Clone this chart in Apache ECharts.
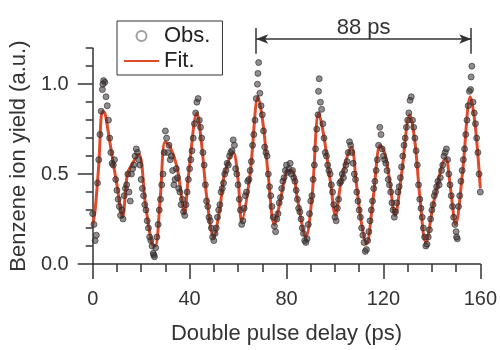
<!DOCTYPE html>
<html>
<head>
<meta charset="utf-8">
<script src="https://cdn.jsdelivr.net/npm/echarts@6/dist/echarts.min.js"></script>
<style>html,body{margin:0;padding:0;background:#fff}#c{width:500px;height:350px}</style>
</head>
<body>
<div id="c"></div>
<script>
// Fit curve (ps, a.u.)
const fitDelay = [0,1,2.5,4,5,6,8,10,12.3,14.3,16,19,21.8,24.5,25.8,27.9,29.9,32,34.8,36.8,37.8,39.6,43,45,47,49.9,52.4,54.4,58,60,61.5,64.8,68.3,70.4,72.4,75,77.7,80,82.3,84.4,88,90.5,93.3,95.3,98.2,100.2,102.7,106.8,108.8,110.9,113,115.8,118.7,120.7,122.7,124.8,127.3,130.9,133,135,137.5,141,145.7,147.7,149.8,152.6,155.9,157.9,160];
const fitYield = [0.22,0.30,0.55,0.85,0.84,0.77,0.60,0.44,0.26,0.50,0.55,0.61,0.33,0.11,0.10,0.37,0.68,0.65,0.54,0.36,0.28,0.50,0.84,0.66,0.38,0.15,0.30,0.50,0.62,0.47,0.24,0.48,0.93,0.77,0.50,0.22,0.37,0.51,0.52,0.37,0.15,0.37,0.84,0.72,0.45,0.27,0.47,0.65,0.45,0.23,0.11,0.37,0.66,0.61,0.45,0.27,0.48,0.83,0.68,0.38,0.12,0.36,0.59,0.42,0.22,0.50,0.93,0.77,0.42];

// Observed points, sampled every obsStep ps starting at 0 (one row = 10 ps)
const obsStep = 0.5;
const obsYield = [
0.28,0.22,0.13,0.16,0.45,0.58,0.72,0.85,0.97,1.02,1.01,0.93,0.88,0.80,0.70,0.62,0.56,0.55,0.58,0.47,
0.41,0.36,0.32,0.27,0.30,0.25,0.38,0.42,0.44,0.50,0.40,0.35,0.50,0.53,0.55,0.60,0.64,0.62,0.58,0.55,
0.47,0.42,0.38,0.33,0.30,0.24,0.20,0.15,0.13,0.10,0.06,0.04,0.09,0.15,0.22,0.30,0.36,0.44,0.50,0.62,
0.74,0.70,0.62,0.66,0.58,0.60,0.52,0.44,0.47,0.53,0.48,0.42,0.40,0.33,0.36,0.29,0.27,0.33,0.40,0.47,
0.53,0.58,0.63,0.70,0.78,0.84,0.90,0.92,0.80,0.76,0.70,0.62,0.55,0.44,0.35,0.32,0.26,0.24,0.20,0.15,
0.13,0.17,0.20,0.26,0.30,0.33,0.40,0.42,0.45,0.50,0.52,0.56,0.55,0.60,0.62,0.63,0.69,0.66,0.53,0.50,
0.44,0.36,0.30,0.22,0.24,0.31,0.38,0.40,0.46,0.47,0.52,0.57,0.66,0.72,0.80,0.92,1.00,1.12,0.95,0.88,
0.83,0.74,0.65,0.62,0.60,0.50,0.43,0.38,0.32,0.26,0.21,0.18,0.25,0.28,0.34,0.37,0.42,0.46,0.48,0.52,
0.55,0.51,0.53,0.56,0.50,0.52,0.48,0.46,0.41,0.36,0.31,0.29,0.25,0.20,0.17,0.13,0.12,0.14,0.22,0.28,
0.35,0.38,0.47,0.55,0.64,0.75,0.83,1.03,0.90,0.86,0.78,0.70,0.62,0.60,0.55,0.52,0.50,0.44,0.40,0.33,
0.26,0.24,0.31,0.36,0.45,0.46,0.50,0.48,0.52,0.55,0.57,0.62,0.68,0.66,0.62,0.56,0.50,0.47,0.40,0.35,
0.30,0.26,0.20,0.16,0.12,0.07,0.08,0.13,0.18,0.24,0.30,0.35,0.42,0.46,0.52,0.58,0.66,0.76,0.72,0.64,
0.60,0.58,0.56,0.52,0.47,0.44,0.40,0.34,0.30,0.26,0.29,0.34,0.40,0.43,0.48,0.54,0.60,0.66,0.70,0.76,
0.80,0.84,0.91,0.93,0.80,0.76,0.70,0.63,0.55,0.44,0.36,0.31,0.26,0.20,0.15,0.10,0.11,0.15,0.19,0.25,
0.30,0.33,0.38,0.40,0.43,0.46,0.44,0.48,0.52,0.55,0.60,0.62,0.64,0.58,0.50,0.44,0.38,0.32,0.26,0.22,
0.18,0.14,0.32,0.38,0.46,0.52,0.58,0.64,0.72,0.80,0.88,0.96,0.97,1.10,0.90,0.84,0.78,0.70,0.62,0.50,
0.40];
// A few additional observed points at the peaks and dips
const obsExtra = [[68.2,1.06],[156.2,1.04],[93.2,0.96],[4.2,1.00],[150.2,0.15],[25.2,0.05]];

// Period annotation
const periodStart = 68, periodEnd = 156, periodLabel = '88 ps';

const xTicks = [0, 40, 80, 120, 160];
const yTicks = [0, 0.5, 1.0];

const fitData = fitDelay.map((d, i) => [d, fitYield[i]]);
const obsData = obsYield.map((v, i) => [i * obsStep, v]).concat(obsExtra);

const ink = '#333';
const font = 'Liberation Sans, Arial, sans-serif';
const chart = echarts.init(document.getElementById('c'), null, {renderer: 'canvas'});
chart.setOption({
  animation: false,
  backgroundColor: '#fff',
  textStyle: {fontFamily: font, color: ink},
  grid: [
    {left: 90, right: 19, top: 48.2, bottom: 81},
    {left: 90, right: 19, top: 20.6, height: 36.8}
  ],
  legend: {
    orient: 'vertical', left: 117, top: 21,
    padding: [4, 12, 3, 6], itemGap: 3,
    itemWidth: 35, itemHeight: 10,
    borderColor: ink, borderWidth: 1,
    textStyle: {fontSize: 22, color: '#222', fontFamily: font},
    data: [
      {name: 'Obs.', icon: 'emptyCircle', itemStyle: {color: '#888', borderColor: '#888', borderWidth: 1.2}},
      {name: 'Fit.', itemStyle: {opacity: 0}}
    ]
  },
  xAxis: [
    {
      type: 'value', gridIndex: 0, min: 0, max: 160, interval: 40,
      axisLine: {lineStyle: {color: ink, width: 1.5}},
      axisTick: {length: 15, lineStyle: {color: ink, width: 1.5}},
      minorTick: {show: true, splitNumber: 4, length: 8, lineStyle: {color: ink, width: 1.5}},
      splitLine: {show: false},
      axisLabel: {fontSize: 20, color: ink, margin: 25, customValues: xTicks},
      name: 'Double pulse delay (ps)', nameLocation: 'middle', nameGap: 59,
      nameTextStyle: {fontSize: 22, color: ink}
    },
    {type: 'value', gridIndex: 1, min: 0, max: 160, show: false}
  ],
  yAxis: [
    {
      type: 'value', gridIndex: 0, position: 'left', min: 0, max: 1.2, interval: 0.1,
      axisLine: {show: true, lineStyle: {color: ink, width: 1.5}},
      axisTick: {show: true, length: 7, lineStyle: {color: ink, width: 1.5}},
      axisLabel: {show: false},
      splitLine: {show: false}
    },
    {
      type: 'value', gridIndex: 0, position: 'left', offset: 0, min: 0, max: 1.2, interval: 0.1,
      axisLine: {show: false},
      axisTick: {show: true, length: 15, customValues: yTicks, lineStyle: {color: ink, width: 1.5}},
      axisLabel: {fontSize: 20, color: ink, margin: 24, customValues: yTicks, formatter: v => v.toFixed(1)},
      splitLine: {show: false},
      name: 'Benzene ion yield (a.u.)', nameLocation: 'middle', nameGap: 52,
      nameTextStyle: {fontSize: 22, color: ink}
    },
    {type: 'value', gridIndex: 1, min: 1.15, max: 1.35, show: false}
  ],
  series: [
    {
      name: 'Fit.', type: 'line', xAxisIndex: 0, yAxisIndex: 0,
      data: fitData, smooth: 0.35, symbol: 'none', z: 2,
      lineStyle: {color: '#e04a2c', width: 3}, itemStyle: {color: '#e04a2c'}
    },
    {
      name: 'Obs.', type: 'scatter', xAxisIndex: 0, yAxisIndex: 0,
      data: obsData, symbol: 'circle', symbolSize: 6, z: 3,
      itemStyle: {color: 'rgba(60,50,50,0.7)', borderColor: '#2a2a2a', borderWidth: 0.8}
    },
    {
      name: 'period', type: 'line', xAxisIndex: 1, yAxisIndex: 2, data: [],
      markLine: {
        silent: true, symbol: ['none', 'none'], animation: false,
        lineStyle: {color: ink, width: 1.5, type: 'solid'},
        label: {show: false},
        data: [
          [
            {coord: [periodStart, 1.25], symbol: 'arrow', symbolSize: [7, 12],
             label: {show: true, formatter: periodLabel, position: 'insideMiddleTop', distance: 0, fontSize: 22, color: ink, fontFamily: font}},
            {coord: [periodEnd, 1.25], symbol: 'arrow', symbolSize: [7, 12]}
          ],
          [{coord: [periodStart, 1.17]}, {coord: [periodStart, 1.31]}],
          [{coord: [periodEnd, 1.17]}, {coord: [periodEnd, 1.31]}]
        ]
      }
    }
  ]
});
</script>
</body>
</html>
